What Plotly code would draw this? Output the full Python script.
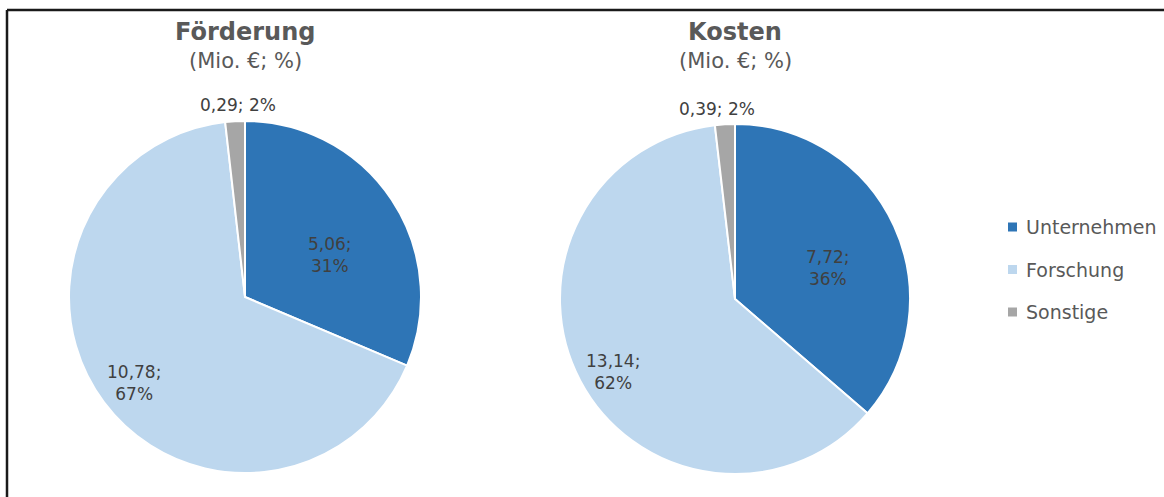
import math
import plotly.graph_objects as go

# Data
categories = ["Unternehmen", "Forschung", "Sonstige"]
foerderung = [5.06, 10.78, 0.29]
kosten = [7.72, 13.14, 0.39]
colors = ["#2E75B6", "#BDD7EE", "#A6A6A6"]

W, H = 1164, 497
FONT = "'DejaVu Sans', sans-serif"


def px(x, y):
    return x / W, 1 - y / H


def fmt(v):
    return f"{v:.2f}".replace(".", ",")


def note(x, y, text, size, color, xanchor="center"):
    ax, ay = px(x, y)
    return dict(x=ax, y=ay, xref="paper", yref="paper", text=text,
                showarrow=False, align="center", xanchor=xanchor,
                yanchor="middle", font=dict(family=FONT, size=size, color=color))


# pie geometry (pixels): centre and radius
pies = [
    dict(title="Förderung", values=foerderung, cx=245, cy=297, r=176,
         label_shift=[7, -1, 1], label_dist=[0.54, 0.80, 1.09]),
    dict(title="Kosten", values=kosten, cx=735, cy=299, r=175,
         label_shift=[6, -3, -2], label_dist=[0.56, 0.81, 1.09]),
]

fig = go.Figure()
annotations = []
shapes = []

for p in pies:
    x0, y1 = px(p["cx"] - p["r"], p["cy"] - p["r"])
    x1, y0 = px(p["cx"] + p["r"], p["cy"] + p["r"])
    fig.add_trace(go.Pie(
        labels=categories, values=p["values"], sort=False,
        direction="clockwise", rotation=0,
        marker=dict(colors=colors, line=dict(color="white", width=2)),
        textinfo="none", hoverinfo="label+value+percent",
        domain=dict(x=[x0, x1], y=[y0, y1]), showlegend=False,
    ))

    # titles
    annotations.append(note(p["cx"], 32, f"<b>{p['title']}</b>", 24, "#595959"))
    annotations.append(note(p["cx"], 61, "(Mio. €; %)", 21, "#595959"))

    # data labels placed along each slice's mid angle
    total = sum(p["values"])
    start = 0.0
    for i, v in enumerate(p["values"]):
        share = v / total
        mid = start + share * 180.0 + p["label_shift"][i]
        start += share * 360.0
        d = p["r"] * p["label_dist"][i]
        lx = p["cx"] + d * math.sin(math.radians(mid))
        ly = p["cy"] - d * math.cos(math.radians(mid))
        pct = f"{round(share * 100)}%"
        txt = f"{fmt(v)}; {pct}" if i == 2 else f"{fmt(v)};<br>{pct}"
        annotations.append(note(lx, ly, txt, 17, "#404040"))

# legend
for i, name in enumerate(categories):
    ly = 227 + i * 42.5
    sx0, sy1 = px(1008, ly - 4.5)
    sx1, sy0 = px(1017, ly + 4.5)
    shapes.append(dict(type="rect", xref="paper", yref="paper",
                       x0=sx0, x1=sx1, y0=sy0, y1=sy1,
                       fillcolor=colors[i], line=dict(width=0)))
    annotations.append(note(1024, ly, name, 19, "#595959", xanchor="left"))

# chart frame (left and top edges)
fx, fy = px(7, 10)
shapes.append(dict(type="line", xref="paper", yref="paper",
                   x0=fx, x1=fx, y0=0, y1=fy, line=dict(color="#1a1a1a", width=2.5)))
shapes.append(dict(type="line", xref="paper", yref="paper",
                   x0=fx, x1=1, y0=fy, y1=fy, line=dict(color="#1a1a1a", width=2.5)))

fig.update_layout(
    width=W, height=H, margin=dict(l=0, r=0, t=0, b=0),
    paper_bgcolor="white", plot_bgcolor="white",
    annotations=annotations, shapes=shapes, showlegend=False,
)

fig.write_html("out.html")
